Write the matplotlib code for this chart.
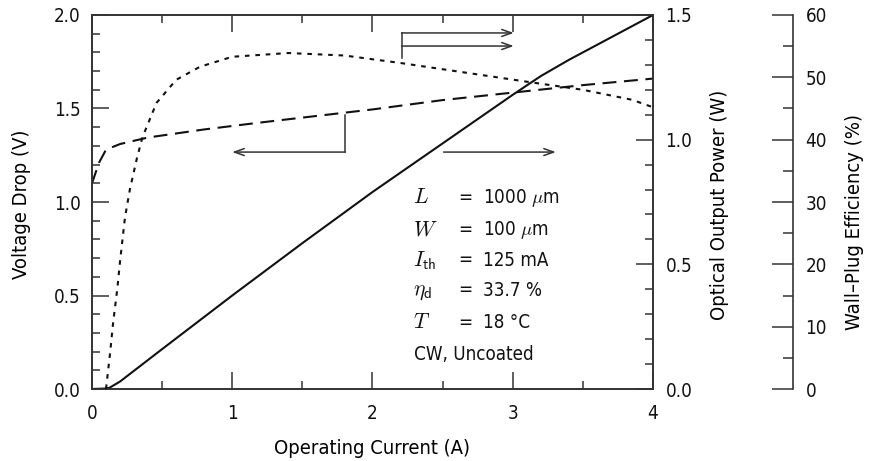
import matplotlib
matplotlib.use("Agg")
import matplotlib.pyplot as plt
from matplotlib.ticker import MultipleLocator, FormatStrFormatter
from matplotlib.patches import FancyArrowPatch

plt.rcParams['font.family'] = ['DejaVu Sans']
plt.rcParams['font.stretch'] = 'condensed'
plt.rcParams['font.weight'] = 'light'
plt.rcParams['mathtext.fontset'] = 'cm'
plt.rcParams['lines.scale_dashes'] = False

# ---- data ----
current_v = [0.0, 0.05, 0.1, 0.2, 0.4, 0.8, 1.2, 1.6, 2.0, 2.5, 3.0, 3.5, 4.0]
voltage = [1.10, 1.21, 1.28, 1.31, 1.345, 1.388, 1.425, 1.46, 1.495, 1.545, 1.585, 1.625, 1.66]

current_p = [0.0, 0.1, 0.125, 0.2, 0.5, 1.0, 1.5, 2.0, 2.5, 3.0, 3.2, 3.4, 3.6, 3.85, 4.0]
power = [0.0, 0.002, 0.005, 0.03, 0.16, 0.375, 0.585, 0.79, 0.985, 1.18, 1.255, 1.32, 1.38, 1.455, 1.50]

current_e = [0.1, 0.13, 0.15, 0.18, 0.2, 0.235, 0.27, 0.32, 0.36, 0.46, 0.6, 0.77, 1.0,
             1.4, 1.8, 2.2, 2.5, 2.8, 3.1, 3.5, 3.85, 4.0]
efficiency = [0.0, 6.0, 10.5, 16.0, 20.5, 27.5, 32.0, 37.0, 40.4, 45.9, 49.6, 51.7, 53.3,
              53.9, 53.5, 52.3, 51.3, 50.3, 49.3, 48.0, 46.4, 45.2]

params_sym = [r'$L$', r'$W$', r'$I_{\mathsf{th}}$', r'$\eta_{\mathsf{d}}$', r'$T$']
params_val = [r'1000 $\mu$m', r'100 $\mu$m', '125 mA', '33.7 %', '18 °C']
note = 'CW, Uncoated'

W, H = 870, 461
fig = plt.figure(figsize=(W / 100, H / 100), dpi=100)
x0, x1, y0, y1 = 92, 653, 389, 15
ax = fig.add_axes([x0 / W, 1 - y0 / H, (x1 - x0) / W, (y0 - y1) / H])
ax2 = ax.twinx()
ax3 = ax.twinx()

ink = '#111111'
spc = '#333333'
ax.plot(current_v, voltage, color=ink, lw=1.5, dashes=(10, 5.5))
ax2.plot(current_p, power, color=ink, lw=1.5)
ax3.plot(current_e, efficiency, color=ink, lw=1.5, dashes=(3.3, 4.2))

ax.set_xlim(0, 4)
ax.set_ylim(0, 2.0)
ax2.set_ylim(0, 1.5)
ax3.set_ylim(0, 60)

fs = 13.5
for a in (ax, ax2, ax3):
    for s in a.spines.values():
        s.set_color(spc)
        s.set_linewidth(1.2)

ax.xaxis.set_major_locator(MultipleLocator(1))
ax.xaxis.set_minor_locator(MultipleLocator(0.5))
ax.yaxis.set_major_locator(MultipleLocator(0.5))
ax.yaxis.set_minor_locator(MultipleLocator(0.1))
ax.yaxis.set_major_formatter(FormatStrFormatter('%.1f'))
ax.tick_params(axis='both', which='both', direction='in', top=True, right=False,
               colors=spc, labelcolor=ink, labelsize=fs, width=1.1)
ax.tick_params(which='major', length=12)
ax.tick_params(which='minor', length=6)
ax.tick_params(axis='y', pad=8)
ax.tick_params(axis='x', pad=11)

ax2.yaxis.set_major_locator(MultipleLocator(0.5))
ax2.yaxis.set_minor_locator(MultipleLocator(0.1))
ax2.yaxis.set_major_formatter(FormatStrFormatter('%.1f'))
ax2.tick_params(axis='y', which='both', direction='in', colors=spc, labelcolor=ink,
                labelsize=fs, width=1.1, pad=9)
ax2.tick_params(which='major', length=12)
ax2.tick_params(which='minor', length=6)

ax3.spines['right'].set_position(('axes', (793 - x0) / (x1 - x0)))
for side in ('left', 'top', 'bottom'):
    ax3.spines[side].set_visible(False)
ax3.yaxis.set_major_locator(MultipleLocator(10))
ax3.yaxis.set_minor_locator(MultipleLocator(5))
ax3.tick_params(axis='y', which='both', direction='in', colors=spc, labelcolor=ink,
                labelsize=fs, width=1.1, pad=9)
ax3.tick_params(which='major', length=15)
ax3.tick_params(which='minor', length=7.5)

# axis labels
lfs = 14.5
fig.text(372 / W, 1 - 448 / H, 'Operating Current (A)', ha='center', va='center', fontsize=lfs)
fig.text(22 / W, 1 - 204 / H, 'Voltage Drop (V)', ha='center', va='center', rotation=90, fontsize=lfs)
fig.text(720 / W, 1 - 205 / H, 'Optical Output Power (W)', ha='center', va='center', rotation=90, fontsize=lfs)
fig.text(855 / W, 1 - 222 / H, 'Wall–Plug Efficiency (%)', ha='center', va='center', rotation=90, fontsize=lfs)

# parameter block
rows = [195, 227, 258, 288, 320]
for yy, sym, val in zip(rows, params_sym, params_val):
    ya = (y0 - yy) / (y0 - y1)
    ax.text((413 - x0) / (x1 - x0), ya, sym, transform=ax.transAxes, ha='left', va='center_baseline', fontsize=15.5, color=ink)
    ax.text((458 - x0) / (x1 - x0), ya, '=', transform=ax.transAxes, ha='left', va='center_baseline', fontsize=fs, color=ink)
    ax.text((483 - x0) / (x1 - x0), ya, val, transform=ax.transAxes, ha='left', va='center_baseline', fontsize=fs, color=ink)
ax.text((414 - x0) / (x1 - x0), (y0 - 352) / (y0 - y1), note, transform=ax.transAxes,
        ha='left', va='center_baseline', fontsize=fs, color=ink)

# indicator arrows (voltage-axis data coordinates)
arr_col = '#333333'
def arrow(xa, ya, xb, yb):
    ax.add_patch(FancyArrowPatch((xa, ya), (xb, yb), arrowstyle='->,head_length=7,head_width=2.5',
                                 color=arr_col, lw=1.1, mutation_scale=1, shrinkA=0, shrinkB=0))

left_mark = (1.807, 1.267, 1.0, 1.465)
ax.plot([left_mark[0], left_mark[0]], [left_mark[1], left_mark[3]], color=arr_col, lw=1.1)
arrow(left_mark[0], left_mark[1], left_mark[2], left_mark[1])
arrow(2.507, 1.267, 3.307, 1.267)
top_mark = (2.207, 1.77, 1.904, 1.834, 3.007)
ax.plot([top_mark[0], top_mark[0]], [top_mark[1], top_mark[2]], color=arr_col, lw=1.1)
arrow(top_mark[0], top_mark[2], top_mark[4], top_mark[2])
arrow(top_mark[0], top_mark[3], top_mark[4], top_mark[3])

fig.savefig('out.png', dpi=100)
